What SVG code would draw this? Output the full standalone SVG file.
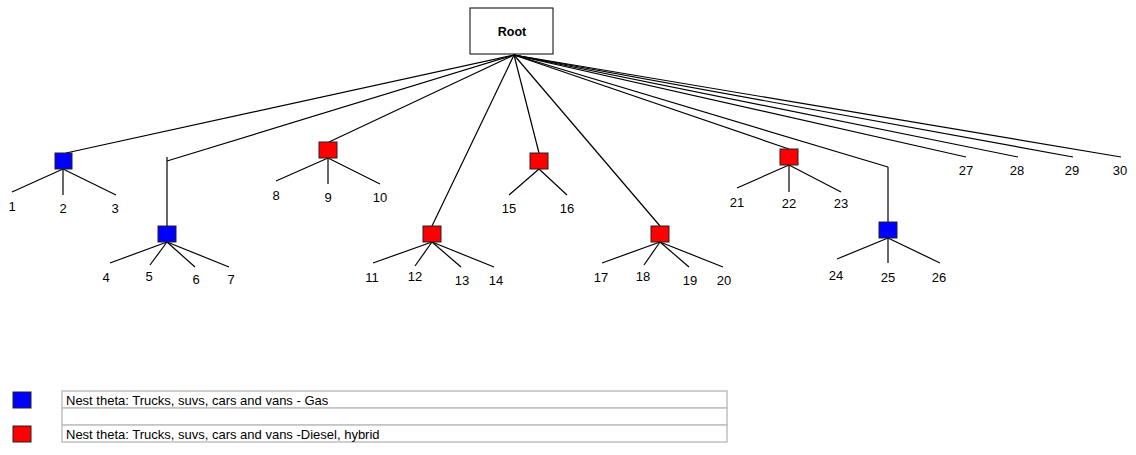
<svg xmlns="http://www.w3.org/2000/svg" width="1136" height="455" viewBox="0 0 1136 455">
  <style>
    .edge { stroke: #000; stroke-width: 1.2; fill: none; }
    .nest { stroke: #222; stroke-width: 1; }
    .gas { fill: #0000ff; }
    .diesel { fill: #ff0000; }
    .lbl { font-family: "Liberation Sans", Arial, sans-serif; font-size: 13px; fill: #000; text-anchor: middle; }
    .root-box { fill: #fff; stroke: #000; stroke-width: 1; }
    .root-lbl { font-family: "Liberation Sans", Arial, sans-serif; font-size: 12.5px; font-weight: bold; fill: #000; text-anchor: middle; }
    .legend-cell { fill: #fff; stroke: #c0c0c0; stroke-width: 1.5; }
    .legend-lbl { font-family: "Liberation Sans", Arial, sans-serif; font-size: 13px; fill: #000; }
  </style>

  <!-- connectors -->
  <g id="connectors">
    <!-- root to nests and direct leaves -->
    <line class="edge" x1="514" y1="55" x2="66" y2="153"/>
    <line class="edge" x1="514" y1="55" x2="167" y2="161"/>
    <line class="edge" x1="167" y1="157" x2="167" y2="226"/>
    <line class="edge" x1="514" y1="55" x2="329" y2="142"/>
    <line class="edge" x1="514" y1="55" x2="432" y2="226"/>
    <line class="edge" x1="514" y1="55" x2="539" y2="153"/>
    <line class="edge" x1="514" y1="55" x2="660" y2="226"/>
    <line class="edge" x1="514" y1="55" x2="789" y2="149"/>
    <line class="edge" x1="514" y1="55" x2="888" y2="167"/>
    <line class="edge" x1="888" y1="167" x2="888" y2="222"/>
    <line class="edge" x1="514" y1="55" x2="966" y2="157"/>
    <line class="edge" x1="514" y1="55" x2="1018" y2="157"/>
    <line class="edge" x1="514" y1="55" x2="1073" y2="157"/>
    <line class="edge" x1="514" y1="55" x2="1121" y2="157"/>

    <!-- nest A -->
    <line class="edge" x1="63" y1="169" x2="12" y2="192"/>
    <line class="edge" x1="63" y1="169" x2="63" y2="195"/>
    <line class="edge" x1="63" y1="169" x2="116" y2="195"/>
    <!-- nest B -->
    <line class="edge" x1="167" y1="242" x2="110" y2="263"/>
    <line class="edge" x1="167" y1="242" x2="150" y2="265"/>
    <line class="edge" x1="167" y1="242" x2="195" y2="267"/>
    <line class="edge" x1="167" y1="242" x2="229" y2="267"/>
    <!-- nest C -->
    <line class="edge" x1="328" y1="158" x2="276" y2="181"/>
    <line class="edge" x1="328" y1="158" x2="328" y2="184"/>
    <line class="edge" x1="328" y1="158" x2="380" y2="184"/>
    <!-- nest D -->
    <line class="edge" x1="432" y1="242" x2="373" y2="263"/>
    <line class="edge" x1="432" y1="242" x2="415" y2="266"/>
    <line class="edge" x1="432" y1="242" x2="461" y2="267"/>
    <line class="edge" x1="432" y1="242" x2="494" y2="267"/>
    <!-- nest E -->
    <line class="edge" x1="539" y1="169" x2="509" y2="195"/>
    <line class="edge" x1="539" y1="169" x2="567" y2="195"/>
    <!-- nest F -->
    <line class="edge" x1="660" y1="242" x2="602" y2="263"/>
    <line class="edge" x1="660" y1="242" x2="644" y2="265"/>
    <line class="edge" x1="660" y1="242" x2="689" y2="267"/>
    <line class="edge" x1="660" y1="242" x2="723" y2="267"/>
    <!-- nest G -->
    <line class="edge" x1="789" y1="165" x2="737" y2="188"/>
    <line class="edge" x1="789" y1="165" x2="789" y2="192"/>
    <line class="edge" x1="789" y1="165" x2="841" y2="192"/>
    <!-- nest H -->
    <line class="edge" x1="888" y1="238" x2="837" y2="259"/>
    <line class="edge" x1="888" y1="238" x2="888" y2="263"/>
    <line class="edge" x1="888" y1="238" x2="940" y2="263"/>
  </g>

  <g id="root">
    <rect class="root-box" x="470" y="8" width="83" height="46"/>
    <text class="root-lbl" x="512" y="36">Root</text>
  </g>

  <g id="nest-a">
    <rect class="nest gas" x="55" y="153" width="17" height="16"/>
  </g>
  <g id="nest-b">
    <rect class="nest gas" x="158" y="226" width="18" height="16"/>
  </g>
  <g id="nest-c">
    <rect class="nest diesel" x="319" y="142" width="18" height="16"/>
  </g>
  <g id="nest-d">
    <rect class="nest diesel" x="423" y="226" width="18" height="16"/>
  </g>
  <g id="nest-e">
    <rect class="nest diesel" x="530" y="153" width="18" height="16"/>
  </g>
  <g id="nest-f">
    <rect class="nest diesel" x="651" y="226" width="18" height="16"/>
  </g>
  <g id="nest-g">
    <rect class="nest diesel" x="780" y="149" width="18" height="16"/>
  </g>
  <g id="nest-h">
    <rect class="nest gas" x="879" y="222" width="18" height="16"/>
  </g>

  <!-- leaf labels -->
  <g id="leaves">
    <text class="lbl" x="12" y="211">1</text>
    <text class="lbl" x="63" y="213">2</text>
    <text class="lbl" x="115" y="213">3</text>
    <text class="lbl" x="106" y="282">4</text>
    <text class="lbl" x="149" y="281">5</text>
    <text class="lbl" x="196" y="284">6</text>
    <text class="lbl" x="231" y="284">7</text>
    <text class="lbl" x="276" y="200">8</text>
    <text class="lbl" x="328" y="202">9</text>
    <text class="lbl" x="380" y="202">10</text>
    <text class="lbl" x="372" y="282">11</text>
    <text class="lbl" x="415" y="281">12</text>
    <text class="lbl" x="462" y="285">13</text>
    <text class="lbl" x="496" y="285">14</text>
    <text class="lbl" x="509" y="213">15</text>
    <text class="lbl" x="567" y="213">16</text>
    <text class="lbl" x="601" y="282">17</text>
    <text class="lbl" x="643" y="281">18</text>
    <text class="lbl" x="690" y="285">19</text>
    <text class="lbl" x="724" y="285">20</text>
    <text class="lbl" x="737" y="207">21</text>
    <text class="lbl" x="789" y="208">22</text>
    <text class="lbl" x="841" y="208">23</text>
    <text class="lbl" x="836" y="280">24</text>
    <text class="lbl" x="888" y="282">25</text>
    <text class="lbl" x="939" y="282">26</text>
    <text class="lbl" x="966" y="175">27</text>
    <text class="lbl" x="1017" y="175">28</text>
    <text class="lbl" x="1072" y="175">29</text>
    <text class="lbl" x="1120" y="175">30</text>
  </g>

  <!-- legend -->
  <g id="legend">
    <rect class="nest gas" x="13" y="392" width="18" height="16"/>
    <rect class="nest diesel" x="13" y="426" width="18" height="16"/>
    <rect class="legend-cell" x="62" y="391" width="665" height="17"/>
    <rect class="legend-cell" x="62" y="408" width="665" height="17"/>
    <rect class="legend-cell" x="62" y="425" width="665" height="17"/>
    <text class="legend-lbl" x="66" y="404.5">Nest theta: Trucks, suvs, cars and vans - Gas</text>
    <text class="legend-lbl" x="66" y="438.5">Nest theta: Trucks, suvs, cars and vans -Diesel, hybrid</text>
  </g>
</svg>
